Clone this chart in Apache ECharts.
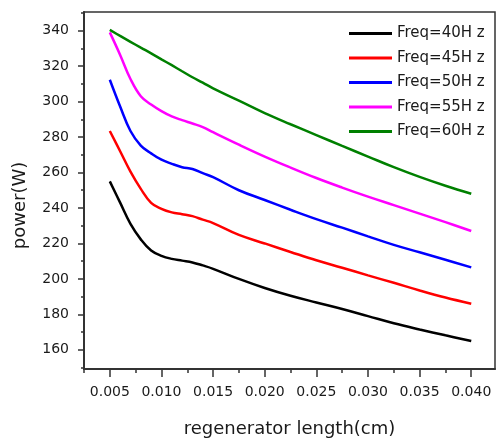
<!DOCTYPE html>
<html>
<head>
<meta charset="utf-8">
<script src="https://cdn.jsdelivr.net/npm/echarts@6/dist/echarts.min.js"></script>
<style>
html,body{margin:0;padding:0;background:#fff;}
#chart{width:496px;height:443px;}
</style>
</head>
<body>
<div id="chart"></div>
<script>
// Data
var lengths = [0.005,0.006,0.007,0.008,0.009,0.010,0.011,0.012,0.013,0.014,0.015,0.0175,0.020,0.0225,0.025,0.0275,0.030,0.0325,0.035,0.0375,0.040];
var freq40 = [255,243,231,222.3,216,213,211.3,210.3,209.3,207.6,205.7,200,194.9,190.5,186.7,183,179,175,171.5,168.2,165];
var freq45 = [283.4,272,260.5,250.8,242.9,239.5,237.5,236.5,235.4,233.4,231.5,224.8,220,215.2,210.5,206.3,202,197.8,193.5,189.5,186];
var freq50 = [312.3,297.2,283.4,275.2,270.8,267.2,264.9,263,262,259.6,257.4,250,244.5,239,233.7,228.9,224,219.2,215,210.8,206.5];
var freq55 = [339,326.3,312.7,303,298.3,294.6,291.6,289.5,287.6,285.6,282.7,275.7,269,262.8,256.9,251.5,246.4,241.6,236.8,232,227];
var freq60 = [340.4,337,333.7,330.4,327.2,323.8,320.5,317.1,313.7,310.7,307.4,300.5,293.5,287.2,281.1,275,269,263,257.5,252.5,248];
var seriesNames = ['Freq=40H z','Freq=45H z','Freq=50H z','Freq=55H z','Freq=60H z'];
var seriesColors = ['#000000','#ff0000','#0000ff','#ff00ff','#008000'];
var xMajorTicks = [0.005,0.010,0.015,0.020,0.025,0.030,0.035,0.040];
var xMinorTicks = [0.0025,0.0075,0.0125,0.0175,0.0225,0.0275,0.0325,0.0375];
var yMajorTicks = [160,180,200,220,240,260,280,300,320,340];
var yMinorTicks = [150,170,190,210,230,250,270,290,310,330,350];

var allValues = [freq40,freq45,freq50,freq55,freq60];
var X_MIN = 0.0025, X_MAX = 0.0423, Y_MIN = 149.2, Y_MAX = 350.5;
var axisColor = '#333';
var textColor = '#1a1a1a';
var font = 'DejaVu Sans';

var series = allValues.map(function(vals, i){
  return {
    name: seriesNames[i],
    type: 'line',
    xAxisIndex: 0, yAxisIndex: 0,
    data: lengths.map(function(x, j){ return [x, vals[j]]; }),
    smooth: 0.4,
    symbol: 'none',
    lineStyle: {color: seriesColors[i], width: 2.5},
    itemStyle: {color: seriesColors[i]},
    z: 3
  };
});

var chart = echarts.init(document.getElementById('chart'), null, {renderer: 'canvas'});
chart.setOption({
  animation: false,
  backgroundColor: '#fff',
  grid: {left: 84, right: 1, top: 12, bottom: 72, show: true, borderColor: axisColor, borderWidth: 1.5, containLabel: false},
  legend: {
    orient: 'vertical',
    left: 349, top: 26, padding: 0,
    icon: 'rect',
    itemWidth: 43, itemHeight: 3, itemGap: 9.5,
    data: seriesNames,
    textStyle: {fontFamily: font, fontSize: 15, color: textColor, lineHeight: 15}
  },
  xAxis: [{
    type: 'value', min: X_MIN, max: X_MAX, position: 'bottom',
    name: 'regenerator length(cm)', nameLocation: 'middle', nameGap: 51,
    nameTextStyle: {fontFamily: font, fontSize: 18, color: textColor},
    axisLine: {show: true, lineStyle: {color: axisColor, width: 2}},
    axisTick: {show: true, inside: false, length: 8, customValues: xMajorTicks, lineStyle: {color: axisColor, width: 1.5}},
    axisLabel: {show: true, customValues: xMajorTicks, margin: 16, fontFamily: font, fontSize: 14, color: textColor,
      formatter: function(v){ return v.toFixed(3); }},
    splitLine: {show: false}
  },{
    type: 'value', min: X_MIN, max: X_MAX, position: 'bottom',
    axisLine: {show: false},
    axisTick: {show: true, inside: false, length: 4, customValues: xMinorTicks, lineStyle: {color: axisColor, width: 1.5}},
    axisLabel: {show: false},
    splitLine: {show: false}
  }],
  yAxis: [{
    type: 'value', min: Y_MIN, max: Y_MAX, position: 'left',
    name: 'power(W)', nameLocation: 'middle', nameGap: 55,
    nameTextStyle: {fontFamily: font, fontSize: 18, color: textColor, padding: [0, 30, 0, 0]},
    axisLine: {show: true, lineStyle: {color: axisColor, width: 2}},
    axisTick: {show: true, inside: false, length: 6, customValues: yMajorTicks, lineStyle: {color: axisColor, width: 1.5}},
    axisLabel: {show: true, customValues: yMajorTicks, margin: 15, fontFamily: font, fontSize: 14, color: textColor},
    splitLine: {show: false}
  },{
    type: 'value', min: Y_MIN, max: Y_MAX, position: 'left',
    axisLine: {show: false},
    axisTick: {show: true, inside: false, length: 3, customValues: yMinorTicks, lineStyle: {color: axisColor, width: 1.5}},
    axisLabel: {show: false},
    splitLine: {show: false}
  }],
  series: series
});
</script>
</body>
</html>
